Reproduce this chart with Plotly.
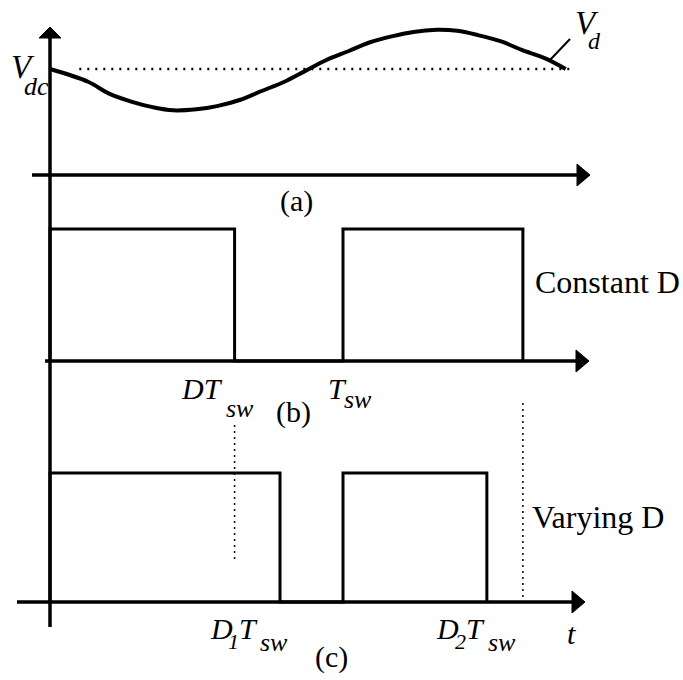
import plotly.graph_objects as go

# ---- data -------------------------------------------------------------
# time is measured in switching periods (T_sw = 1)
vd_t = [0.00, 0.13, 0.20, 0.28, 0.35, 0.42, 0.50, 0.57, 0.65, 0.72, 0.80,
        0.87, 0.94, 1.02, 1.09, 1.17, 1.24, 1.32, 1.39, 1.46, 1.54, 1.61,
        1.69, 1.76]
# dc-link voltage normalised to V_dc = 1
vd_v = [1.00, 0.88, 0.77, 0.69, 0.64, 0.61, 0.62, 0.65, 0.71, 0.79, 0.88,
        0.98, 1.08, 1.17, 1.25, 1.31, 1.35, 1.37, 1.36, 1.32, 1.26, 1.18,
        1.10, 1.00]
vdc_level = 1.0
vdc_span = [0.10, 1.79]

# switch on / off instants
const_on = [0.0, 1.0]
const_off = [0.63, 1.614]
vary_on = [0.0, 1.0]
vary_off = [0.785, 1.491]

# ---- page geometry ----------------------------------------------------
W, H = 683, 680
X0_PX, T_PX = 50, 293          # pixel of t = 0, pixels per T_sw
SERIF = "Liberation Serif"
INK = "black"

def xr_t(px):
    return (px - X0_PX) / T_PX

def yrange(base_px, unit_px):
    return [(base_px - H) / unit_px, base_px / unit_px]

def py_paper(py):
    return 1 - py / H

def pulse_path(on, off):
    xs, ys = [], []
    for a, b in zip(on, off):
        xs += [a, a, b, b]
        ys += [0, 1, 1, 0]
    return xs, ys

fig = go.Figure()

# (a) V_d waveform and V_dc reference
fig.add_trace(go.Scatter(x=vd_t, y=vd_v, mode="lines", yaxis="y",
                         line=dict(color=INK, width=4, shape="spline"),
                         hoverinfo="skip"))
fig.add_trace(go.Scatter(x=vdc_span, y=[vdc_level] * 2, mode="lines", yaxis="y",
                         line=dict(color=INK, width=2.5, dash="2px,6px"),
                         hoverinfo="skip"))

# (b) constant duty cycle
bx, by = pulse_path(const_on, const_off)
fig.add_trace(go.Scatter(x=bx, y=by, mode="lines", yaxis="y2",
                         line=dict(color=INK, width=3), hoverinfo="skip"))

# (c) varying duty cycle
cx, cy = pulse_path(vary_on, vary_off)
fig.add_trace(go.Scatter(x=cx, y=cy, mode="lines", yaxis="y3",
                         line=dict(color=INK, width=3), hoverinfo="skip"))

shapes = []
# horizontal time axes with arrowheads: (yref, start px, tip px)
for yref, x_start, x_tip in [("y", 32, 590), ("y2", 45, 589), ("y3", 17, 585)]:
    shapes.append(dict(type="line", xref="x", yref=yref,
                       x0=xr_t(x_start), x1=xr_t(x_tip - 6), y0=0, y1=0,
                       line=dict(color=INK, width=3.5)))
    shapes.append(dict(type="path", xref="x", yref=yref,
                       xsizemode="pixel", ysizemode="pixel",
                       xanchor=xr_t(x_tip), yanchor=0,
                       path="M -13,-11 L 0,0 L -13,11 Z",
                       fillcolor=INK, line=dict(color=INK, width=1)))

# common vertical axis with arrowhead
shapes.append(dict(type="line", xref="x", yref="paper", x0=0, x1=0,
                   y0=py_paper(627), y1=py_paper(34),
                   line=dict(color=INK, width=3.5)))
shapes.append(dict(type="path", xref="x", yref="paper",
                   xsizemode="pixel", ysizemode="pixel",
                   xanchor=0, yanchor=py_paper(27),
                   path="M -11,-11 L 0,0 L 11,-11 Z",
                   fillcolor=INK, line=dict(color=INK, width=1)))

# dotted projections of the constant-D switching edges
for t_edge, top, bottom in [(const_off[0], 425, 560), (const_off[1], 403, 598)]:
    shapes.append(dict(type="line", xref="x", yref="paper",
                       x0=t_edge, x1=t_edge,
                       y0=py_paper(top), y1=py_paper(bottom),
                       line=dict(color=INK, width=1.5, dash="2px,4px")))

# leader line for the V_d label
shapes.append(dict(type="line", xref="paper", yref="paper",
                   x0=550 / W, y0=py_paper(60), x1=570 / W, y1=py_paper(39),
                   line=dict(color=INK, width=2)))

annotations = []

def label(text, px, py, size, italic=True):
    annotations.append(dict(
        text=f"<i>{text}</i>" if italic else text,
        x=px / W, y=py_paper(py), xref="paper", yref="paper",
        showarrow=False, xanchor="center", yanchor="middle",
        font=dict(family=SERIF, size=size, color=INK)))

label("V", 23, 67, 33)
label("dc", 36, 86, 26)
label("V", 587, 23, 33)
label("d", 594, 41, 24)
label("(a)", 296, 201, 30, italic=False)

label("DT", 202, 388, 30)
label("sw", 240, 408, 26)
label("(b)", 293, 412, 30, italic=False)
label("T", 337, 388, 30)
label("sw", 358, 399, 26)
label("Constant D", 607, 282, 32, italic=False)

label("Varying D", 598, 517, 32, italic=False)
label("D", 221, 628, 30)
label("1", 233, 641, 22)
label("T", 248, 628, 30)
label("sw", 274, 642, 26)
label("D", 447, 628, 30)
label("2", 460, 641, 22)
label("T", 475, 628, 30)
label("sw", 502, 642, 26)
label("t", 571, 633, 30)
label("(c)", 331, 657, 30, italic=False)

hidden = dict(visible=False, showgrid=False, zeroline=False, fixedrange=True)
fig.update_layout(
    width=W, height=H,
    margin=dict(l=0, r=0, t=0, b=0),
    paper_bgcolor="white", plot_bgcolor="white",
    showlegend=False,
    xaxis=dict(range=[xr_t(0), xr_t(W)], domain=[0, 1], **hidden),
    yaxis=dict(range=yrange(175, 106), domain=[0, 1], **hidden),
    yaxis2=dict(range=yrange(361, 132), overlaying="y", **hidden),
    yaxis3=dict(range=yrange(602, 129), overlaying="y", **hidden),
    shapes=shapes,
    annotations=annotations,
)

fig.write_html("out.html")
